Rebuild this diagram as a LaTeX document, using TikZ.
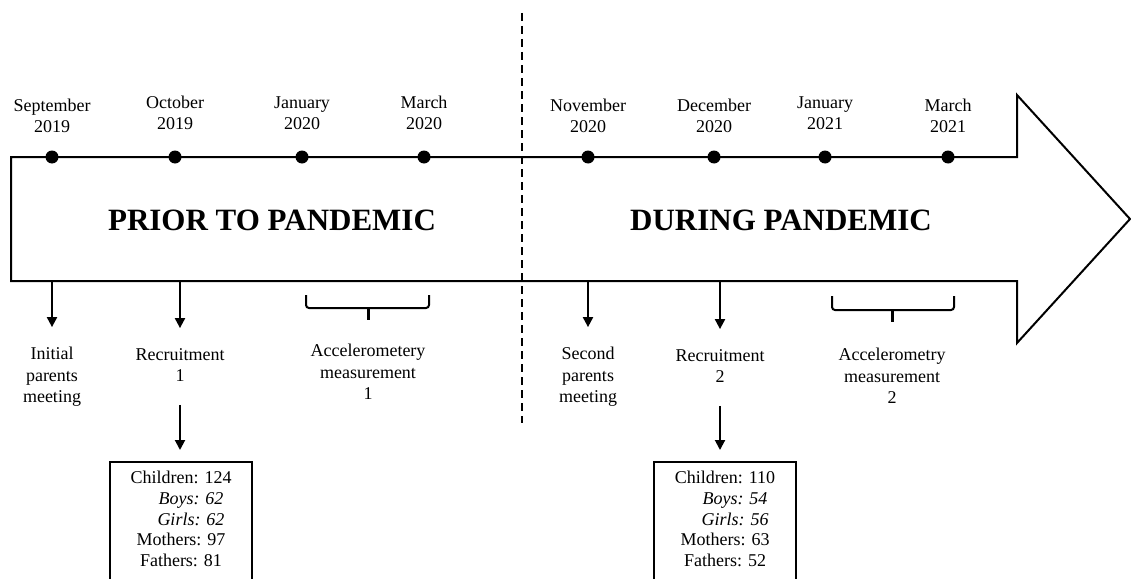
\documentclass[tikz,border=0pt]{standalone}
\usepackage{fontspec}
\setmainfont{Liberation Serif}
\usetikzlibrary{arrows.meta}

\tikzset{
  txt/.style={font=\fontsize{18}{21.5}\selectfont, align=center, inner sep=0pt},
  titel/.style={font=\fontsize{31}{36}\selectfont\bfseries, inner sep=0pt},
  punkt/.style={circle, fill, inner sep=0pt, minimum size=13pt},
  pfeil/.style={line width=2pt, -{Triangle[length=10pt,width=10pt]}},
  klammer/.style={line width=2pt, rounded corners=3pt},
  zahlbox/.style={font=\fontsize{18}{20.7}\selectfont, align=center, inner xsep=0pt, inner ysep=9pt, minimum width=142pt, anchor=north}
}

\begin{document}
\begin{tikzpicture}[x=1pt, y=-1pt] % 1pt = 1 Pixel der Vorlage
\clip (0,0) rectangle (1131,578);

%GROSSER PFEIL
\draw [line width=2pt, line join=miter] (11,157) -- (1017,157) -- (1017,95) -- (1130,219) -- (1017,343) -- (1017,281) -- (11,281) -- cycle;

%TRENNLINIE
\draw [dashed, dash pattern=on 8pt off 5pt, line width=2pt] (522,13) -- (522,423);

%TITEL
\node [titel] (prior) at (272,220) {PRIOR TO PANDEMIC};
\node [titel] (during) at (781,220) {DURING PANDEMIC};




%ZEITACHSE: PUNKTE

\node [punkt] (p1) at (52,157) {};
\node [punkt] (p2) at (175,157) {};
\node [punkt] (p3) at (302,157) {};
\node [punkt] (p4) at (424,157) {};
\node [punkt] (p5) at (588,157) {};
\node [punkt] (p6) at (714,157) {};
\node [punkt] (p7) at (825,157) {};
\node [punkt] (p8) at (948,157) {};

%ZEITACHSE: DATEN

\node [txt] (d1) at (52,116) {September\\2019};
\node [txt] (d2) at (175,113) {October\\2019};
\node [txt] (d3) at (302,113) {January\\2020};
\node [txt] (d4) at (424,113) {March\\2020};
\node [txt] (d5) at (588,116) {November\\2020};
\node [txt] (d6) at (714,116) {December\\2020};
\node [txt] (d7) at (825,113) {January\\2021};
\node [txt] (d8) at (948,116) {March\\2021};




%EREIGNISSE VOR DER PANDEMIE

\coordinate (u1) at (52,282);
\coordinate (u2) at (180,282);
\node [txt] (meet1) at (52,377) {Initial\\parents\\meeting};
\node [txt] (rec1) at (180,365) {Recruitment\\1};
\draw [pfeil, shorten >=20pt] (u1) -- (meet1.north);
\draw [pfeil, shorten >=20pt] (u2) -- (rec1.north);

\draw [klammer] (306,295) -- (306,308) -- (429,308) -- (429,295);
\draw [line width=3pt] (368,307) -- (368,320);
\node [txt] (acc1) at (368,372) {Accelerometery\\measurement\\1};

\node [zahlbox] (box1) at (181,462) {Children: 124\\
  \hspace*{20pt}\textit{Boys: 62}\\
  \hspace*{20pt}\textit{Girls: 62}\\
  Mothers: 97\\
  Fathers: 81};
\draw [line width=1.5pt] (box1.north west) rectangle ([yshift=-20pt]box1.south east);
\draw [pfeil, shorten <=23pt, shorten >=12pt] (rec1.south) -- (rec1.south |- box1.north);




%EREIGNISSE WAEHREND DER PANDEMIE

\coordinate (u3) at (588,282);
\coordinate (u4) at (720,282);
\node [txt] (meet2) at (588,377) {Second\\parents\\meeting};
\node [txt] (rec2) at (720,366) {Recruitment\\2};
\draw [pfeil, shorten >=20pt] (u3) -- (meet2.north);
\draw [pfeil, shorten >=20pt] (u4) -- (rec2.north);

\draw [klammer] (832,296) -- (832,310) -- (954,310) -- (954,296);
\draw [line width=3pt] (892,309) -- (892,322);
\node [txt] (acc2) at (892,376) {Accelerometry\\measurement\\2};

\node [zahlbox] (box2) at (725,462) {Children: 110\\
  \hspace*{20pt}\textit{Boys: 54}\\
  \hspace*{20pt}\textit{Girls: 56}\\
  Mothers: 63\\
  Fathers: 52};
\draw [line width=1.5pt] (box2.north west) rectangle ([yshift=-20pt]box2.south east);
\draw [pfeil, shorten <=23pt, shorten >=12pt] (rec2.south) -- (rec2.south |- box2.north);

\end{tikzpicture}
\end{document}
